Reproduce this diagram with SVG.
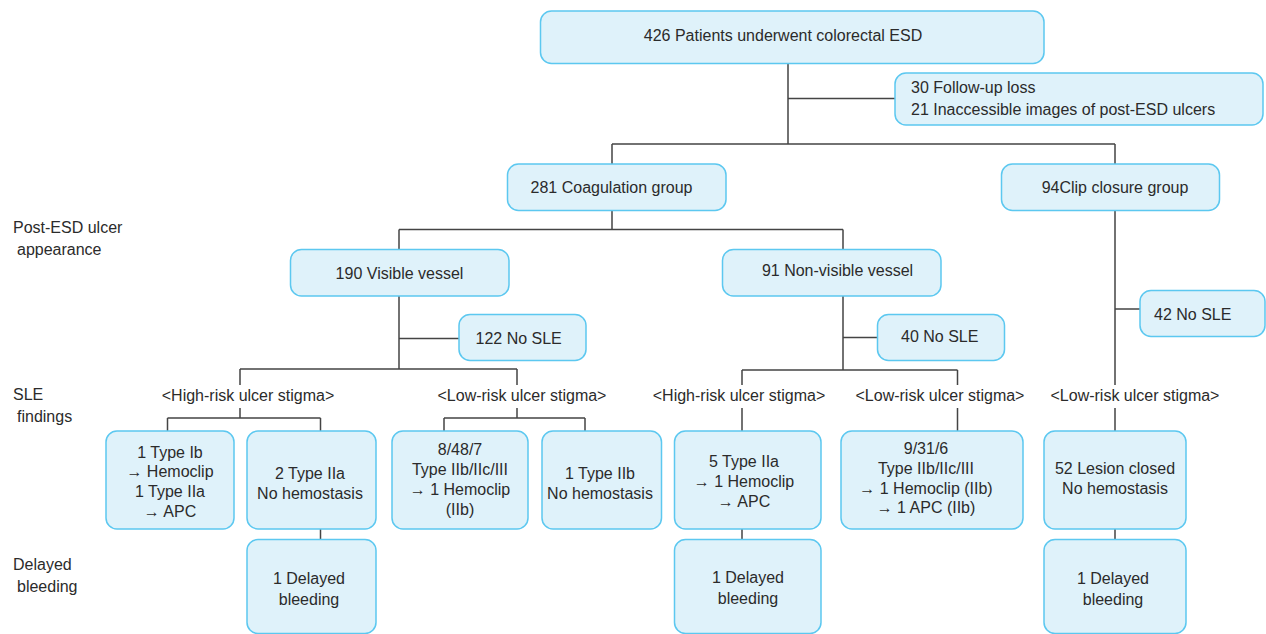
<svg xmlns="http://www.w3.org/2000/svg" width="1266" height="634" viewBox="0 0 1266 634">
<style>
.box{fill:#dff2fa;stroke:#5cc8f0;stroke-width:1.5}
text{font-family:"Liberation Sans",Arial,sans-serif;font-size:16px;fill:#2b2b2b}
.c{text-anchor:middle}
.ln{fill:none;stroke:#444;stroke-width:1.5}
</style>
<rect width="1266" height="634" fill="#fff"/>
<g id="connectors" class="ln">
<path d="M788 63V144M788 98.5H895M612 144H1115M612 144V164M1115 144V164"/>
<path d="M612 210.5V229.5M399 229.5H843M399 229.5V249M843 229.5V249"/>
<path d="M399 296V369M399 338.5H459M240 369H517M240 369V385M517 369V385"/>
<path d="M240 408V418M167.5 418H320.5M167.5 418V431M320.5 418V431"/>
<path d="M517 408V418M444 418H585M444 418V431M585 418V431"/>
<path d="M320.5 529V539"/>
<path d="M843 296V370M843 337.5H877.5M742 370H957.5M742 370V385M957.5 370V385"/>
<path d="M742 408V431M957.5 408V431M742 529V539"/>
<path d="M1115 210.5V385M1115 309H1140M1115 408V431M1115 529V539"/>
</g>
<g id="n-top"><rect class="box" x="540.5" y="11" width="503.5" height="52.5" rx="11"/><text class="c" x="783" y="41">426 Patients underwent colorectal ESD</text></g>
<g id="n-excl"><rect class="box" x="895" y="73" width="368" height="52" rx="11"/><text x="911" y="93">30 Follow-up loss</text><text x="911" y="115">21 Inaccessible images of post-ESD ulcers</text></g>
<g id="n-coag"><rect class="box" x="507.5" y="164" width="218.5" height="46.5" rx="11"/><text class="c" x="611.5" y="192.5">281 Coagulation group</text></g>
<g id="n-clip"><rect class="box" x="1001.5" y="164" width="218" height="46.5" rx="11"/><text class="c" x="1115" y="192.5">94Clip closure group</text></g>
<g id="n-vis"><rect class="box" x="290.5" y="249.5" width="218.5" height="46.5" rx="11"/><text class="c" x="399.5" y="279">190 Visible vessel</text></g>
<g id="n-nonvis"><rect class="box" x="722.5" y="249.5" width="218.5" height="46.5" rx="11"/><text class="c" x="837.5" y="276">91 Non-visible vessel</text></g>
<g id="n-nosle1"><rect class="box" x="459" y="314.5" width="127" height="46" rx="11"/><text x="475.5" y="344">122 No SLE</text></g>
<g id="n-nosle2"><rect class="box" x="877.5" y="314.5" width="127" height="46" rx="11"/><text x="901" y="342">40 No SLE</text></g>
<g id="n-nosle3"><rect class="box" x="1140" y="290.5" width="125" height="46" rx="11"/><text x="1154" y="320">42 No SLE</text></g>
<g id="lbl-stigma">
<text class="c" x="248" y="400.5">&lt;High-risk ulcer stigma&gt;</text>
<text class="c" x="522" y="400.5">&lt;Low-risk ulcer stigma&gt;</text>
<text class="c" x="739" y="400.5">&lt;High-risk ulcer stigma&gt;</text>
<text class="c" x="940" y="400.5">&lt;Low-risk ulcer stigma&gt;</text>
<text class="c" x="1135" y="400.5">&lt;Low-risk ulcer stigma&gt;</text>
</g>
<g id="n-b1"><rect class="box" x="106" y="431" width="128" height="98" rx="11"/><text class="c" x="170" y="457.5">1 Type Ib</text><text class="c" x="170" y="477">→ Hemoclip</text><text class="c" x="170" y="497">1 Type IIa</text><text class="c" x="170" y="517">→ APC</text></g>
<g id="n-b2"><rect class="box" x="247" y="431" width="129" height="98" rx="11"/><text class="c" x="310" y="478.5">2 Type IIa</text><text class="c" x="310" y="498.5">No hemostasis</text></g>
<g id="n-b3"><rect class="box" x="392" y="431" width="136" height="98" rx="11"/><text class="c" x="460" y="455">8/48/7</text><text class="c" x="460" y="474.5">Type IIb/IIc/III</text><text class="c" x="460" y="495">→ 1 Hemoclip</text><text class="c" x="460" y="515">(IIb)</text></g>
<g id="n-b4"><rect class="box" x="542" y="431" width="119.5" height="98" rx="11"/><text class="c" x="600" y="478.5">1 Type IIb</text><text class="c" x="600" y="498.5">No hemostasis</text></g>
<g id="n-b5"><rect class="box" x="674.5" y="431" width="146.5" height="98" rx="11"/><text class="c" x="744" y="467">5 Type IIa</text><text class="c" x="744" y="487">→ 1 Hemoclip</text><text class="c" x="744" y="506.5">→ APC</text></g>
<g id="n-b6"><rect class="box" x="841" y="431" width="182" height="98" rx="11"/><text class="c" x="926" y="453.5">9/31/6</text><text class="c" x="926" y="473.5">Type IIb/IIc/III</text><text class="c" x="926" y="493.5">→ 1 Hemoclip (IIb)</text><text class="c" x="926" y="513">→ 1 APC (IIb)</text></g>
<g id="n-b7"><rect class="box" x="1044" y="431" width="142" height="98" rx="11"/><text class="c" x="1115" y="473.5">52 Lesion closed</text><text class="c" x="1115" y="493.5">No hemostasis</text></g>
<g id="n-d1"><rect class="box" x="247" y="539.5" width="129" height="94" rx="11"/><text class="c" x="309" y="583.5">1 Delayed</text><text class="c" x="309" y="605">bleeding</text></g>
<g id="n-d2"><rect class="box" x="674.5" y="539.5" width="146.5" height="94" rx="11"/><text class="c" x="748" y="582.5">1 Delayed</text><text class="c" x="748" y="604">bleeding</text></g>
<g id="n-d3"><rect class="box" x="1044" y="539.5" width="142" height="94" rx="11"/><text class="c" x="1113" y="583.5">1 Delayed</text><text class="c" x="1113" y="605">bleeding</text></g>
<g id="lbl-rows">
<text x="13" y="233">Post-ESD ulcer</text><text x="17" y="255">appearance</text>
<text x="13" y="400">SLE</text><text x="17" y="422">findings</text>
<text x="13" y="570">Delayed</text><text x="17" y="592">bleeding</text>
</g>
</svg>
